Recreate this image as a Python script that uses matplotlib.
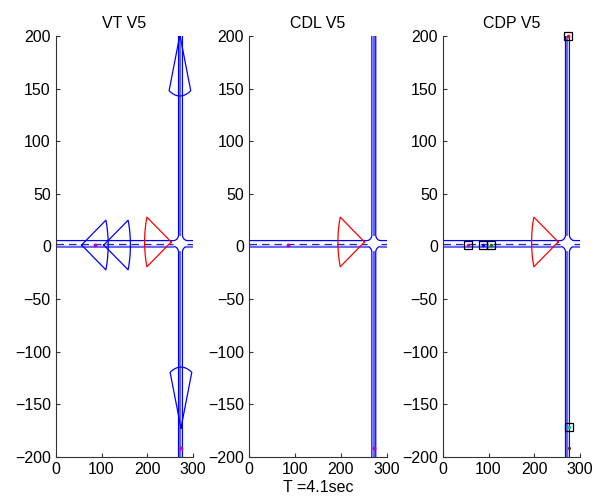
import numpy as np
import matplotlib.pyplot as plt

plt.rcParams['font.family'] = ['Liberation Sans', 'DejaVu Sans']
plt.rcParams['font.size'] = 11.5

titles = ['VT V5', 'CDL V5', 'CDP V5']
xlabel_mid = 'T =4.1sec'

# road geometry (data units)
road_y = [0.0, 5.6]        # horizontal road edges
road_x = [268.0, 276.5]    # vertical road edges
corner_r = (11.0, 5.5)     # fillet radius in x and y

# sensor cones: apex x, apex y, heading (deg), color
cones_vt = [
    (56.5, 1.4, 0, 'b'),
    (105.0, 1.4, 0, 'b'),
    (252.0, 4.3, 180, 'r'),
    (271.0, 201.0, -90, 'b'),
    (273.3, -172.6, 90, 'b'),
]
cones_cdl = [(252.0, 4.3, 180, 'r')]
cones_cdp = [(252.0, 4.3, 180, 'r')]
cone_len = 58.0
cone_half = 24.0

# plain dots on panels 1 and 2
dots_x = [86.0, 273.5]
dots_y = [1.5, -191.0]

# boxed vehicles in panel 3
box_x = [56.0, 87.0, 106.0, 272.4, 274.6]
box_y = [1.5, 1.5, 1.5, 200.0, -171.7]
box_c = ['m', 'b', 'g', 'r', 'c']
extra_x = [274.6]
extra_y = [-191.7]


def draw_road(ax):
    x0, x1 = road_x
    y0, y1 = road_y
    rx, ry = corner_r
    t = np.linspace(0, np.pi / 2, 20)
    kw = dict(color='#0000ff', lw=0.9)
    # top-left curb
    ax.plot(np.r_[0, x0 - rx + rx * np.sin(t), x0],
            np.r_[y1, y1 + ry - ry * np.cos(t), 200], **kw)
    # top-right curb
    ax.plot(np.r_[x1, x1 + rx - rx * np.sin(t[::-1]), 300],
            np.r_[200, y1 + ry - ry * np.cos(t[::-1]), y1], **kw)
    # bottom-left curb
    ax.plot(np.r_[0, x0 - rx + rx * np.sin(t), x0],
            np.r_[y0, y0 - ry + ry * np.cos(t), -200], **kw)
    # bottom-right curb
    ax.plot(np.r_[x1, x1 + rx - rx * np.sin(t[::-1]), 300],
            np.r_[-200, y0 - ry + ry * np.cos(t[::-1]), y0], **kw)
    # lighter, heavier lower edge of the horizontal road
    lk = dict(color='#6a6aff', lw=1.4)
    ax.plot([0, x0 - rx], [y0 - 0.7, y0 - 0.7], **lk)
    ax.plot([x1 + rx, 300], [y0 - 0.7, y0 - 0.7], **lk)
    # centre lines
    ym = (y0 + y1) / 2
    xm = (x0 + x1) / 2
    dk = dict(color='#2a2a9a', lw=0.9, dashes=(6, 4))
    ax.plot([0, x0 - rx], [ym, ym], **dk)
    ax.plot([x1 + rx, 300], [ym, ym], **dk)
    ax.plot([xm, xm], [y1 + ry, 200], color='#5555ff', lw=1.3)
    ax.plot([xm, xm], [-200, y0 - ry], color='#5555ff', lw=1.3)


def draw_cone(ax, x, y, h, c):
    a = np.radians(np.linspace(h - cone_half, h + cone_half, 30))
    xs = np.r_[x, x + cone_len * np.cos(a), x]
    ys = np.r_[y, y + cone_len * np.sin(a), y]
    ax.plot(xs, ys, color=c, lw=0.9)


fig = plt.figure(figsize=(5.95, 4.99), dpi=100)
lefts = [0.0936, 0.4185, 0.744]
cone_sets = [cones_vt, cones_cdl, cones_cdp]

for i, ax_left in enumerate(lefts):
    ax = fig.add_axes([ax_left, 0.0842, 0.2311, 0.8437])
    draw_road(ax)
    for cx, cy, h, c in cone_sets[i]:
        draw_cone(ax, cx, cy, h, c)
    if i < 2:
        ax.plot(dots_x, dots_y, 'o', color='m', ms=2.8, mec='none')
    else:
        for bx, by, bc in zip(box_x, box_y, box_c):
            ax.plot(bx, by, 'o', color=bc, ms=2.6, mec='none', clip_on=False)
            ax.plot(bx, by, 's', mfc='none', mec='k', ms=6, mew=0.9, clip_on=False)
        ax.plot(extra_x, extra_y, 'o', color='#553333', ms=2.4, mec='none')
    ax.set_xlim(0, 300)
    ax.set_ylim(-200, 200)
    ax.set_xticks([0, 100, 200, 300])
    ax.set_yticks(np.arange(-200, 201, 50))
    ax.spines['top'].set_visible(False)
    ax.spines['right'].set_visible(False)
    for s in ['left', 'bottom']:
        ax.spines[s].set_color('#333333')
        ax.spines[s].set_linewidth(0.8)
    ax.tick_params(direction='in', length=3, color='#333333', labelsize=11.5)
    ax.set_title(titles[i], fontsize=11.5, pad=6)
    if i == 1:
        ax.set_xlabel(xlabel_mid, fontsize=11.5, labelpad=2)

fig.savefig('out.png', dpi=100)
